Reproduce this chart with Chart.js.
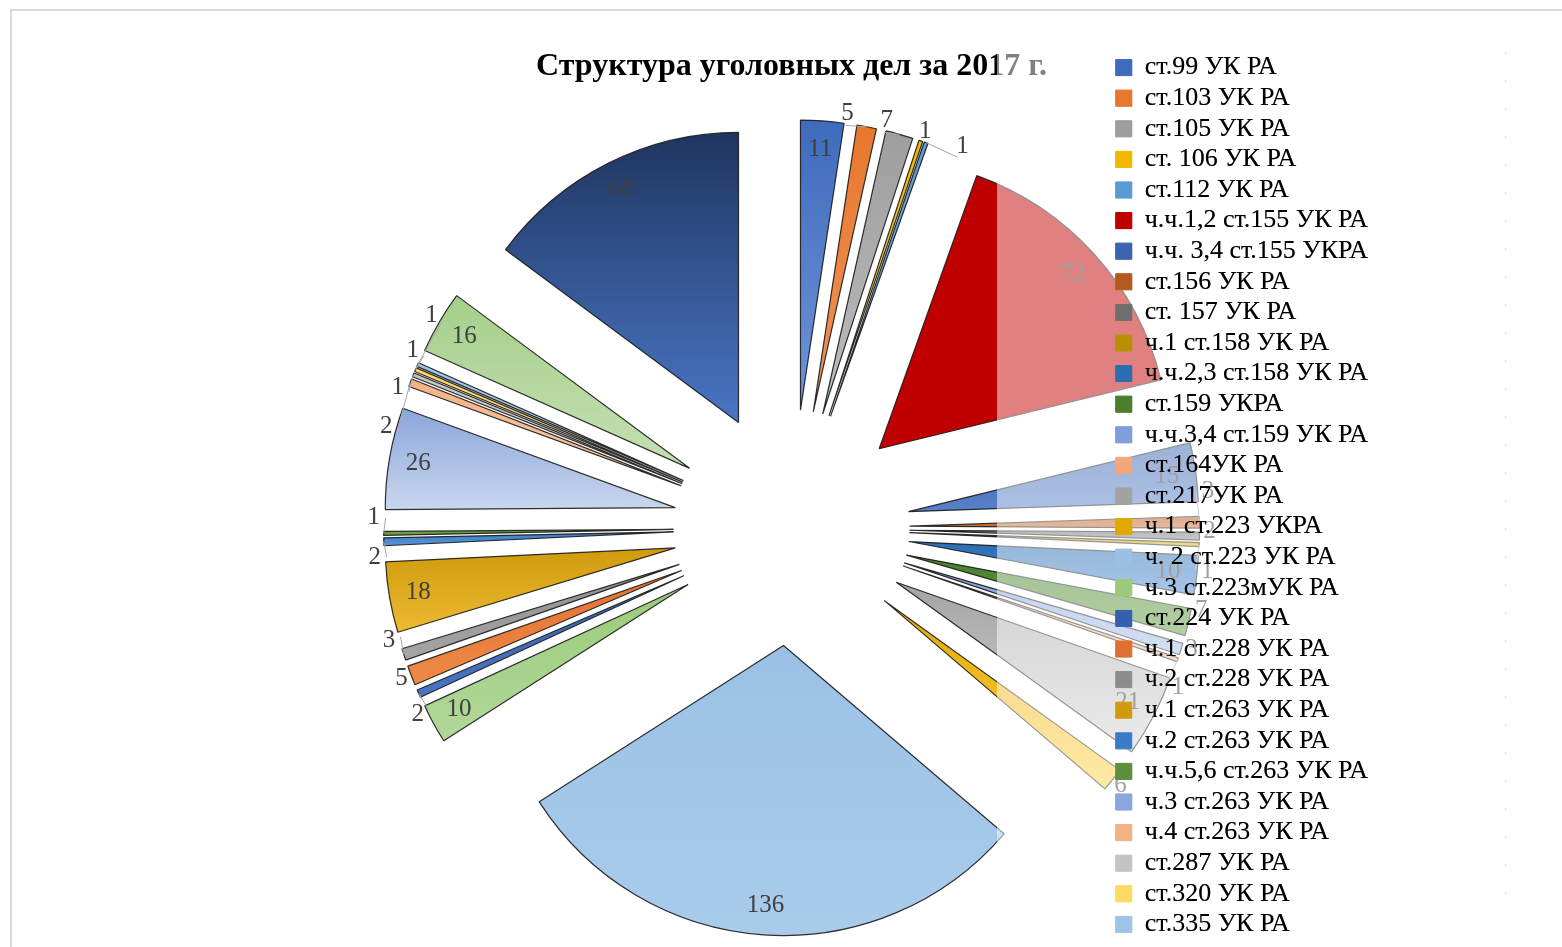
<!DOCTYPE html>
<html>
<head>
<meta charset="utf-8">
<script src="https://cdn.jsdelivr.net/npm/chart.js@4/dist/chart.umd.min.js"></script>
<style>
  html, body { margin: 0; padding: 0; background: #fff; }
  canvas { display: block; }
</style>
</head>
<body>
<canvas id="pie-chartcanvas" width="1562" height="947"></canvas>
<script>
// categories, clockwise from 12 o'clock (the last two slices are cut off the legend)
var categories = [
  "ст.99 УК РА", "ст.103 УК РА", "ст.105 УК РА", "ст. 106 УК РА", "ст.112 УК РА",
  "ч.ч.1,2 ст.155 УК РА", "ч.ч. 3,4 ст.155 УКРА", "ст.156 УК РА", "ст. 157 УК РА",
  "ч.1 ст.158 УК РА", "ч.ч.2,3 ст.158 УК РА", "ст.159 УКРА", "ч.ч.3,4 ст.159 УК РА",
  "ст.164УК РА", "ст.217УК РА", "ч.1 ст.223 УКРА", "ч. 2 ст.223 УК РА",
  "ч.3 ст.223мУК РА", "ст.224 УК РА", "ч.1 ст.228 УК РА", "ч.2 ст.228 УК РА",
  "ч.1 ст.263 УК РА", "ч.2 ст.263 УК РА", "ч.ч.5,6 ст.263 УК РА", "ч.3 ст.263 УК РА",
  "ч.4 ст.263 УК РА", "ст.287 УК РА", "ст.320 УК РА", "ст.335 УК РА",
  "другие ст. УК РА", "прочие ст. УК РА"
];
var cases2017 = [
  11, 5, 7, 1, 1,
  72, 15, 3, 2,
  1, 10, 7, 3,
  1, 21, 6, 136,
  10, 2, 5, 3,
  18, 2, 1, 26,
  2, 1, 1, 1,
  16, 68
];
var legendCount = 29;  // legend in the picture stops at ст.335

// fill: top / bottom colour of each slice's gradient
var sliceTop = [
  "#3F6BBE", "#E8782E", "#9E9E9E", "#F2B800", "#5B9BD5",
  "#C00000", "#3A64B0", "#B45A1E", "#6E6E6E",
  "#B89000", "#2A6DB0", "#4A7F2E", "#7F9FDB",
  "#F4A77A", "#A3A3A3", "#E0A800", "#9AC1E5",
  "#9BCB7A", "#3560B0", "#E07030", "#8C8C8C",
  "#CF9A0C", "#3A7CC8", "#5C9040", "#8AA6DA",
  "#F4B183", "#C4C4C4", "#FFD966", "#9DC3E6",
  "#A5CF89", "#1F3560"
];
var sliceBottom = [
  "#6E95D8", "#F0935A", "#BDBDBD", "#FFD040", "#8AB8E3",
  "#C00000", "#5A82CC", "#D8743A", "#969696",
  "#E8C000", "#4A8CD0", "#62A040", "#A8BFE8",
  "#F8C3A0", "#D6D6D6", "#FFD24A", "#AACCEB",
  "#B2D89A", "#4A74C4", "#F08A48", "#A6A6A6",
  "#EDBA32", "#5A96D8", "#70AD47", "#CAD7EF",
  "#F8CBAD", "#DBDBDB", "#FFE699", "#BDD7EE",
  "#C5E0B4", "#4A76C6"
];

var EXPLODE = 118;     // how far each slice is pulled out
var PIE_RADIUS = 290;

// pull every slice out along its bisector (Chart.js offset also grows thin slices)
var baseArcDraw = Chart.ArcElement.prototype.draw;
Chart.ArcElement.prototype.draw = function (ctx) {
  var mid = (this.startAngle + this.endAngle) / 2;
  var i = this.$slice || 0;
  var r = this.outerRadius;
  var ys = [this.y, this.y + r * Math.sin(this.startAngle), this.y + r * Math.sin(this.endAngle)];
  if (this.startAngle < Math.PI / 2 && this.endAngle > Math.PI / 2) ys.push(this.y + r);
  var g = ctx.createLinearGradient(0, Math.min.apply(null, ys), 0, Math.max.apply(null, ys) + 1);
  g.addColorStop(0, sliceTop[i]);
  g.addColorStop(1, sliceBottom[i]);
  var opts = this.options;
  ctx.save();
  ctx.translate(Math.cos(mid) * EXPLODE, Math.sin(mid) * EXPLODE);
  this.options = Object.assign({}, opts, {backgroundColor: g});
  baseArcDraw.call(this, ctx);
  this.options = opts;
  ctx.restore();
};

var frame = {
  id: 'frame',
  beforeDraw: function (chart) {
    var ctx = chart.ctx;
    ctx.save();
    ctx.fillStyle = '#fff';
    ctx.fillRect(0, 0, chart.width, chart.height);
    ctx.strokeStyle = '#d9d9d9';
    ctx.lineWidth = 2;
    ctx.strokeRect(11, 10, chart.width + 20, chart.height + 20);
    ctx.restore();
  },
  beforeDatasetsDraw: function (chart) {
    chart.getDatasetMeta(0).data.forEach(function (el, i) { el.$slice = i; });
  }
};

// value labels, then the half-transparent legend box over the right side
var sliceLabels = {
  id: 'sliceLabels',
  afterDatasetsDraw: function (chart) {
    var ctx = chart.ctx;
    var arcs = chart.getDatasetMeta(0).data;
    var values = chart.data.datasets[0].data;
    var outside = [];
    ctx.save();
    ctx.font = '25px "Liberation Serif", serif';
    ctx.fillStyle = '#404040';
    ctx.textAlign = 'center';
    ctx.textBaseline = 'middle';
    arcs.forEach(function (el, i) {
      var mid = (el.startAngle + el.endAngle) / 2;
      var R = el.outerRadius;
      if (values[i] >= 10) {
        var d = EXPLODE + R * 0.9;
        ctx.fillText(values[i], el.x + Math.cos(mid) * d, el.y + Math.sin(mid) * d);
      } else {
        outside.push({v: values[i], t: mid, mid: mid, x: el.x, y: el.y, R: R});
      }
    });
    var ring = EXPLODE + PIE_RADIUS + 10;
    var gap = 40 / ring;
    outside.sort(function (a, b) { return a.t - b.t; });
    for (var it = 0; it < 400; it++) {
      var moved = false;
      for (var k = 1; k < outside.length; k++) {
        var dt = outside[k].t - outside[k - 1].t;
        if (dt < gap) {
          var s = (gap - dt) / 2;
          outside[k - 1].t -= s;
          outside[k].t += s;
          moved = true;
        }
      }
      if (!moved) break;
    }
    outside.forEach(function (o) {
      var lx = o.x + Math.cos(o.t) * ring, ly = o.y + Math.sin(o.t) * ring;
      if (Math.abs(o.t - o.mid) * ring > 14) {
        var ex = o.x + Math.cos(o.mid) * (EXPLODE + o.R), ey = o.y + Math.sin(o.mid) * (EXPLODE + o.R);
        ctx.strokeStyle = '#a6a6a6';
        ctx.lineWidth = 1;
        ctx.beginPath();
        ctx.moveTo(ex, ey);
        ctx.lineTo(o.x + Math.cos(o.t) * (ring - 12), o.y + Math.sin(o.t) * (ring - 12));
        ctx.stroke();
      }
      ctx.fillText(o.v, lx, ly);
    });
    ctx.restore();

    ctx.save();
    ctx.fillStyle = 'rgba(255,255,255,0.5)';
    ctx.fillRect(997, 40, 508, chart.height - 40);
    ctx.strokeStyle = '#d9d9d9';
    ctx.setLineDash([2, 26]);
    ctx.beginPath();
    ctx.moveTo(1505.5, 52);
    ctx.lineTo(1505.5, 920);
    ctx.stroke();
    ctx.restore();
    chart.legend.draw();
  }
};

var ctx = document.getElementById('pie-chartcanvas');
var pieChart = new Chart(ctx, {
  type: 'pie',
  data: {
    labels: categories,
    datasets: [{
      data: cases2017,
      backgroundColor: sliceTop,
      borderColor: 'rgba(25,25,25,0.9)',
      borderWidth: 1.2,
      radius: PIE_RADIUS
    }]
  },
  options: {
    responsive: false,
    animation: false,
    events: [],
    devicePixelRatio: 1,
    radius: PIE_RADIUS,
    layout: { padding: { left: 472, right: 184, top: 0, bottom: 5 } },
    plugins: {
      tooltip: { enabled: false },
      title: {
        display: true,
        fullSize: false,
        text: 'Структура уголовных дел за 2017 г.',
        color: '#000',
        font: { family: '"Liberation Serif", serif', size: 32, weight: 'bold', lineHeight: 1.2 },
        padding: { top: 47.8, bottom: 27.4 }
      },
      legend: {
        position: 'right',
        align: 'end',
        labels: {
          boxWidth: 16,
          boxHeight: 16,
          padding: 4.6,
          color: '#000',
          font: { family: '"Liberation Serif", serif', size: 26 },
          generateLabels: function (chart) {
            return categories.slice(0, legendCount).map(function (text, i) {
              return {
                text: text,
                fillStyle: sliceTop[i],
                strokeStyle: sliceTop[i],
                lineWidth: 1,
                hidden: false,
                index: i
              };
            });
          }
        }
      }
    }
  },
  plugins: [frame, sliceLabels]
});
</script>
</body>
</html>
